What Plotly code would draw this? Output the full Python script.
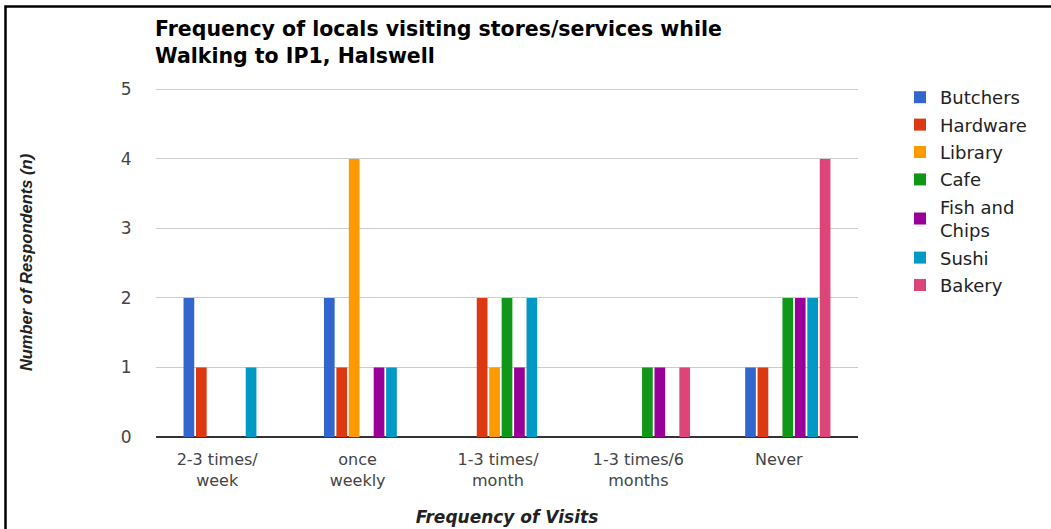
import plotly.graph_objects as go

categories = ["2-3 times/<br>week", "once<br>weekly", "1-3 times/<br>month",
              "1-3 times/6<br>months", "Never"]
series_names = ["Butchers", "Hardware", "Library", "Cafe", "Fish and<br>Chips", "Sushi", "Bakery"]
butchers = [2, 2, 0, 0, 1]
hardware = [1, 1, 2, 0, 1]
library = [0, 4, 1, 0, 0]
cafe = [0, 0, 2, 1, 2]
fish_and_chips = [0, 1, 1, 1, 2]
sushi = [1, 1, 2, 0, 2]
bakery = [0, 0, 0, 1, 4]
series_values = [butchers, hardware, library, cafe, fish_and_chips, sushi, bakery]
colors = ["#3366cc", "#dc3912", "#ff9900", "#109618", "#990099", "#0099c6", "#dd4477"]
y_ticks = [0, 1, 2, 3, 4, 5]

W, H = 1051, 529
L, R, T, B = 156, 193, 88, 92

fig = go.Figure()
for i, (name, vals, col) in enumerate(zip(series_names, series_values, colors)):
    fig.add_trace(go.Bar(
        x=categories, y=vals, name=name, marker=dict(color=col, line=dict(width=0)),
        legendgroup=f"g{i}",
    ))

fig.update_layout(
    width=W, height=H,
    margin=dict(l=L, r=R, t=T, b=B, autoexpand=False),
    paper_bgcolor="white", plot_bgcolor="white",
    barmode="group", bargap=0.38, bargroupgap=0.14,
    title=dict(
        text="Frequency of locals visiting stores/services while<br>Walking to IP1, Halswell",
        font=dict(family="DejaVu Sans", size=20.5, color="#000000", weight="bold"),
        xref="container", x=155 / W, xanchor="left",
        yref="container", y=1 - 36 / H, yanchor="top",
    ),
    legend=dict(
        xref="container", yref="container",
        x=900 / W, xanchor="left", y=1 - 79 / H, yanchor="top",
        font=dict(family="DejaVu Sans", size=18, color="#222222"),
        traceorder="grouped", tracegroupgap=1,
        bgcolor="rgba(0,0,0,0)",
    ),
    showlegend=True,
)

fig.update_xaxes(
    type="category", automargin=False,
    tickfont=dict(family="DejaVu Sans", size=16, color="#444444"),
    ticklabelshift=-9,
    ticks="outside", ticklen=8, tickcolor="rgba(0,0,0,0)",
    showgrid=False, showline=False,
    title=dict(text="Frequency of Visits",
               font=dict(family="DejaVu Sans", size=17, color="#222222", weight="bold", style="italic"),
               standoff=22),
)
fig.update_yaxes(
    range=[0, 5.02], tickvals=y_ticks, automargin=False,
    tickfont=dict(family="DejaVu Sans", size=17, color="#444444"),
    ticks="outside", ticklen=20, tickcolor="rgba(0,0,0,0)",
    showgrid=True, gridcolor="#cccccc", gridwidth=1,
    zeroline=True, zerolinecolor="#333333", zerolinewidth=1.5,
    showline=False,
    title=dict(text="Number of Respondents (n)",
               font=dict(family="Liberation Sans", size=16.5, color="#222222", weight="bold", style="italic"),
               standoff=83),
)

# outer frame of the image (left and top edges visible)
fig.add_shape(type="rect", xref="paper", yref="paper",
              x0=(5.5 - L) / (W - L - R), x1=1.5,
              y0=-1, y1=(H - B - 6.5) / (H - T - B),
              line=dict(color="#000000", width=2.5), fillcolor="rgba(0,0,0,0)", layer="above")

fig.write_html("out.html", config={"displayModeBar": False},
               post_script="document.body.style.margin='0';")
